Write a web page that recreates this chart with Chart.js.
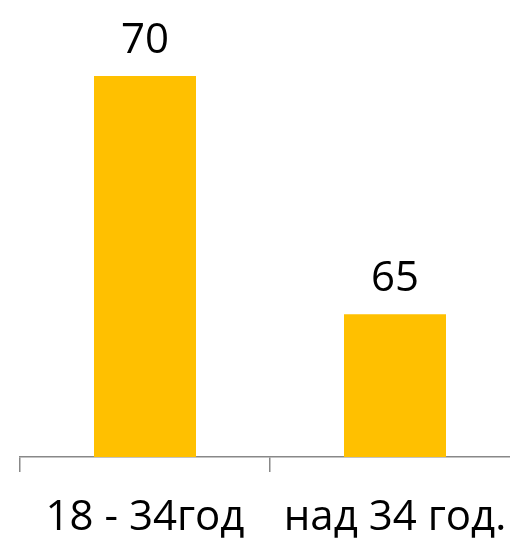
<!DOCTYPE html>
<html>
<head>
<meta charset="utf-8">
<script src="https://cdn.jsdelivr.net/npm/chart.js@4/dist/chart.umd.min.js"></script>
<style>
  html, body { margin: 0; padding: 0; background: #fff; overflow: hidden; }
  #wrap { width: 540px; height: 540px; position: relative; }
</style>
</head>
<body>
<div id="wrap"><canvas id="c"></canvas></div>
<script>
const categories = ["18 - 34год", "над 34 год."];
const values = [70, 65];
const axisMin = 62;
const axisMax = 70;

const FONT = "'Open Sans', 'DejaVu Sans', sans-serif";

const valueLabels = {
  id: 'valueLabels',
  afterDatasetsDraw(chart) {
    const ctx = chart.ctx;
    const meta = chart.getDatasetMeta(0);
    ctx.save();
    ctx.font = '42px ' + FONT;
    ctx.fillStyle = '#000';
    ctx.textAlign = 'center';
    ctx.textBaseline = 'alphabetic';
    meta.data.forEach((bar, i) => {
      ctx.fillText(String(values[i]), bar.x, bar.y - 23.5);
    });
    ctx.restore();
  }
};

function draw() {
  new Chart(document.getElementById('c'), {
    type: 'bar',
    data: {
      labels: categories,
      datasets: [{
        data: values,
        backgroundColor: '#FFC000',
        borderWidth: 0,
        barPercentage: 0.408,
        categoryPercentage: 1.0
      }]
    },
    options: {
      responsive: true,
      maintainAspectRatio: false,
      animation: false,
      events: [],
      layout: { padding: { left: 20, right: 20, top: 76, bottom: -25 } },
      plugins: { legend: { display: false }, tooltip: { enabled: false } },
      scales: {
        x: {
          grid: {
            display: true,
            drawOnChartArea: false,
            drawTicks: true,
            tickLength: 15,
            color: '#888888',
            lineWidth: 1.5
          },
          border: { display: true, color: '#888888', width: 1.5 },
          ticks: {
            color: '#000',
            font: { family: FONT, size: 42 },
            padding: 21.3,
            maxRotation: 0,
            autoSkip: false
          }
        },
        y: {
          display: false,
          min: axisMin,
          max: axisMax
        }
      }
    },
    plugins: [valueLabels]
  });
}

if (document.fonts && document.fonts.load) {
  document.fonts.load("42px 'Open Sans'").then(draw, draw);
} else {
  draw();
}
</script>
</body>
</html>
